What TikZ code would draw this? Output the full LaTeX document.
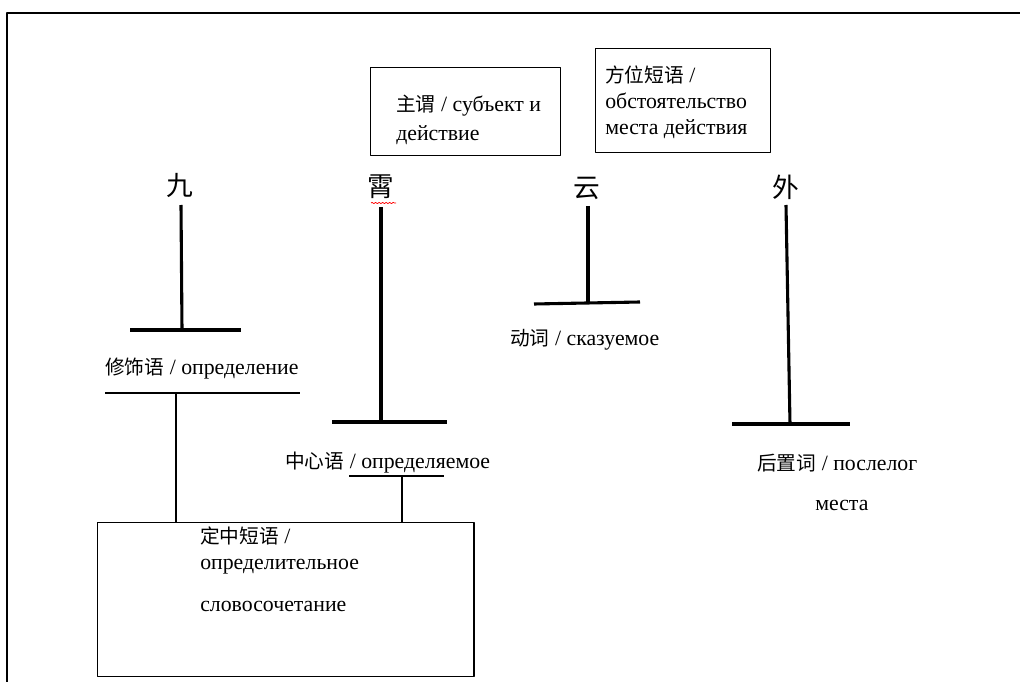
\documentclass[tikz,border=0pt]{standalone}
\usepackage{fontspec}
\setmainfont{Liberation Serif}
\newfontfamily\cjk{Noto Sans CJK SC}
\newcommand{\zh}[1]{{\cjk\fontsize{14}{17}\selectfont #1}}
\usetikzlibrary{positioning,decorations.pathmorphing}

\begin{document}
\begin{tikzpicture}[x=0.025cm, y=-0.025cm, line join=round,
		lbl/.style={anchor=base west, inner sep=0pt, font=\fontsize{15.5}{19}\selectfont},
		hanzi/.style={inner sep=0pt, font=\cjk\fontsize{19}{22}\selectfont},
		boxnode/.style={draw, line width=1pt, inner sep=0pt, anchor=north west},
		thickbar/.style={line width=2.2pt},
		thinbar/.style={line width=1pt}]
	\useasboundingbox (0,0) rectangle (1020,682);
	
	% --- Khung ngoài ---
	\draw[line width=1.6pt] (1020,13) -- (7,13) -- (7,682);
	
	% --- Các khung chữ ---
	\node[boxnode, minimum width=4.75cm, minimum height=2.2cm] (zhuwei) at (370,67) {};
	\node[boxnode, minimum width=4.375cm, minimum height=2.6cm] (fangwei) at (595,48) {};
	\node[boxnode, minimum width=9.4cm, minimum height=3.85cm] (dingzhong) at (97,522) {};
	
	\node[lbl] (zhuwei1) at (396,112) {\zh{主谓} / субъект и};
	\node[lbl] (zhuwei2) at (396,141) {действие};
	\node[lbl] (fangwei1) at (605,83) {\zh{方位短语} /};
	\node[lbl] (fangwei2) at (605,109) {обстоятельство};
	\node[lbl] (fangwei3) at (605,135) {места действия};
	\node[lbl] (dingzhong1) at (200,543) {\zh{定中短语} /};
	\node[lbl] (dingzhong2) at (200,569) {определительное};
	\node[lbl] (dingzhong3) at (200,611) {словосочетание};
	
	% --- Các chữ Hán ---
	\node[hanzi] (jiu) at (180,185) {九};
	\node[hanzi] (xiao) at (381,187) {霄};
	\node[hanzi] (yun) at (587,188) {云};
	\node[hanzi] (wai) at (786,187) {外};
	\draw[red, line width=0.5pt, decorate, decoration={snake, amplitude=0.5pt, segment length=2.5pt}]
		(371,203) -- (396,203);
	
	% --- Các thanh chữ T ---
	\coordinate (jiuL) at (130,330); \coordinate (jiuR) at (241,330);
	\coordinate (xiaoL) at (332,422); \coordinate (xiaoR) at (447,422);
	\coordinate (yunL) at (534,304); \coordinate (yunR) at (640,302);
	\coordinate (waiL) at (732,424); \coordinate (waiR) at (850,424);
	\coordinate (waiFoot) at (790,424);
	
	\draw[thickbar] (jiuL) -- (jiuR);
	\draw[thickbar] (jiu) ++(1,20) -- (jiuL -| 182,0);
	\draw[thickbar] (xiaoL) -- (xiaoR);
	\draw[thickbar] (xiao) ++(0,20) -- (xiaoL -| xiao);
	\draw[thickbar] (yunL) -- (yunR);
	\draw[thickbar] (yun) ++(1,18) -- (yunL -| 588,0);
	\draw[thickbar] (waiL) -- (waiR);
	\draw[thickbar] (wai) ++(0,18) -- (waiFoot);
	
	% --- Nhãn dưới thanh ---
	\node[lbl] (xiushi) at (105,375) {\zh{修饰语} / определение};
	\node[lbl] (zhongxin) at (285,468) {\zh{中心语} / определяемое};
	\node[lbl] (dongci) at (510,346) {\zh{动词} / сказуемое};
	\node[lbl] (houzhi) at (757,470) {\zh{后置词} / послелог};
	\node[lbl] (mesta) at (815,510) {места};
	
	% --- Nối xuống khung định trung ---
	\coordinate (xiushiL) at (105,393); \coordinate (xiushiR) at (300,393);
	\coordinate (xiushiFoot) at (176,393);
	\draw[line width=1.3pt] (xiushiL) -- (xiushiR);
	\draw[thinbar] (xiushiFoot) -- (xiushiFoot |- dingzhong.north);
	
	\coordinate (zhongxinL) at (349,476); \coordinate (zhongxinR) at (444,476);
	\coordinate (zhongxinFoot) at (402,476);
	\draw[thinbar] (zhongxinL) -- (zhongxinR);
	\draw[thinbar] (zhongxinFoot) -- (zhongxinFoot |- dingzhong.north);
\end{tikzpicture}
\end{document}
